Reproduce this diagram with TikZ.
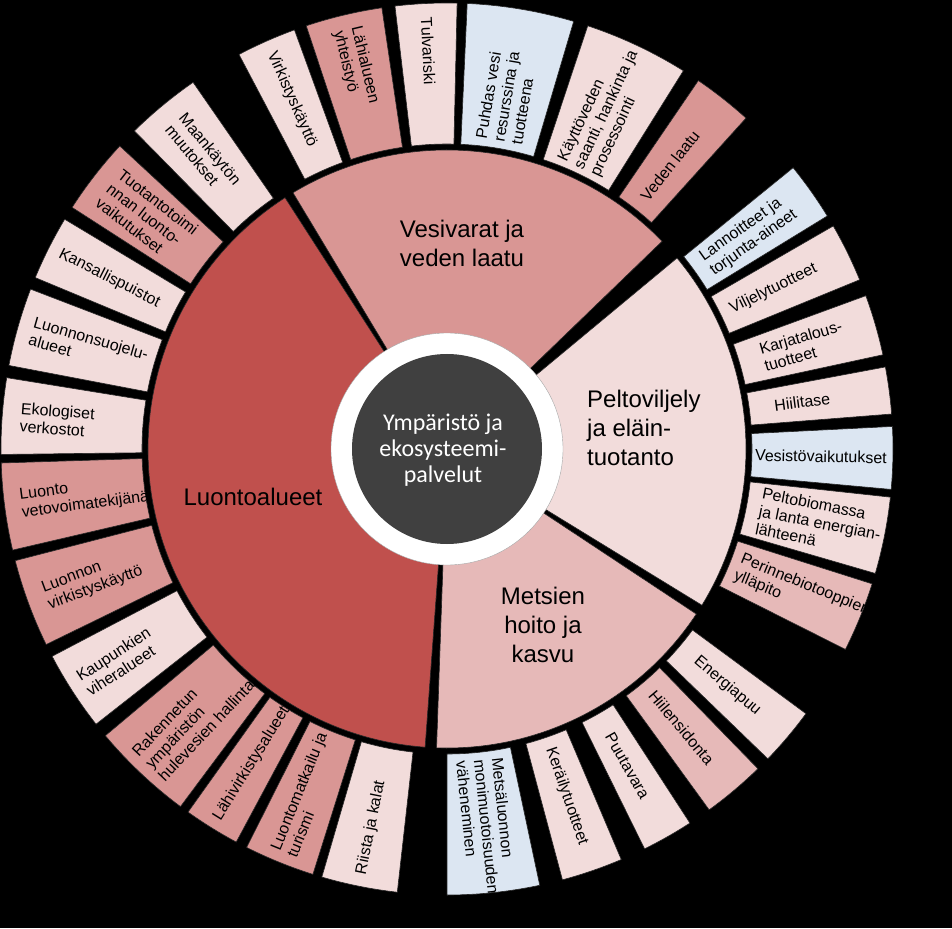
\documentclass[tikz,border=0pt]{standalone}
\usepackage{fontspec}
\setmainfont{Liberation Sans}
\newfontfamily\hubfont{Carlito}
\usetikzlibrary{positioning}

\definecolor{redA}{HTML}{C0504D}
\definecolor{redB}{HTML}{D99694}
\definecolor{redC}{HTML}{E6B9B8}
\definecolor{redD}{HTML}{F2DCDB}
\definecolor{blueD}{HTML}{DCE6F2}
\definecolor{hubgray}{HTML}{404040}

% annular sector: start angle, end angle, inner radius, outer radius, fill
\newcommand{\ringseg}[5]{%
  \draw[seg, fill=#5] (#1:#3) arc[start angle=#1, end angle=#2, radius=#3]
    -- (#2:#4) arc[start angle=#2, end angle=#1, radius=#4] -- cycle;}

\begin{document}
\begin{tikzpicture}[
  x=1pt, y=1pt,
  seg/.style={draw=black!85, line width=0.6pt},
  olab/.style={font=\fontsize{16}{18}\selectfont, align=left, inner sep=2pt},
  mlab/.style={font=\fontsize{24}{29}\selectfont, inner sep=0pt},
  hub/.style={circle, fill=hubgray, text=white, minimum size=190pt, inner sep=0pt,
              align=center, font=\hubfont\fontsize{24}{26}\selectfont},
  hubring/.style={circle, fill=white, draw=gray!70, minimum size=232pt, inner sep=0pt},
]

% --- background ---
\fill[black] (-447,-479) rectangle (505,449);

% --- middle ring ---
\ringseg{44}{121}{110}{299}{redB}
\ringseg{122.8}{265.8}{110}{299}{redA}
\ringseg{268}{326.5}{110}{299}{redC}
\ringseg{328.5}{399.7}{110}{299}{redD}

% --- outer ring: start/end/colour/text start radius/text ---
\foreach \ta/\tb/\col/\rs/\txt [count=\i] in {
    88.7/96.7/redD/434/Tulvariski,
    98.4/108.4/redB/434/{Lähialueen\\yhteistyö},
    110/117.8/redD/436/Virkistyskäyttö,
    124.7/134.5/redD/428/{Maankäytön\\muutokset},
    137.2/147.2/redB/430/{Tuotantotoimi\\nnan luonto-\\vaikutukset},
    149/157.4/redD/436/Kansallispuistot,
    159/169.2/redD/434/{Luonnonsuojelu-\\alueet},
    170.8/180.7/redD/430/{Ekologiset\\verkostot},
    181.8/193.1/redB/432/{Luonto\\vetovoimatekijänä},
    194.5/206/redB/430/{Luonnon\\virkistyskäyttö},
    207.7/218.1/redD/436/{Kaupunkien\\viheralueet},
    220/233.3/redB/438/{Rakennetun\\ympäristön\\hulevesien hallinta},
    234.5/241.8/redB/438/Lähivirkistysalueet,
    243.3/252.5/redB/438/{Luontomatkailu ja\\turismi},
    253.7/263.6/redD/436/Riista ja kalat,
    270/282/blueD/310/{Metsäluonnon\\monimuotoisuuden\\väheneminen},
    285/293/redD/314/Keräilytuotteet,
    296.3/303/redD/326/Puutavara,
    306/314.2/redC/316/Hiilensidonta,
    316/323.6/redD/324/Energiapuu,
    333.3/342.4/redC/312/{Perinnebiotooppien\\ylläpito},
    343.8/353.8/redD/316/{Peltobiomassa\\ja lanta energian-\\lähteenä},
    354.8/362.9/blueD/306/Vesistövaikutukset,
    364.5/370.6/redD/328/Hiilitase,
    372.2/380.1/redD/326/{Karjatalous-\\tuotteet},
    382.3/390/redD/314/Viljelytuotteet,
    391.5/399.1/blueD/316/{Lannoitteet ja\\torjunta-aineet},
    407.9/415.7/redB/316/Veden laatu,
    418/431.6/redD/308/{Käyttöveden\\saanti, hankinta ja\\prosessointi},
    433.5/447.4/blueD/310/{Puhdas vesi\\resurssina ja\\tuotteena}} {
  \pgfmathsetmacro\mid{(\ta+\tb)/2}
  \pgfmathtruncatemacro\side{cos(\mid)>0}
  \ringseg{\ta}{\tb}{305}{446}{\col}
  \ifnum\side=1
    \node[olab, rotate=\mid, anchor=west] (out\i) at (\mid:\rs) {\txt};
  \else
    \pgfmathsetmacro\rot{\mid+180}
    \node[olab, rotate=\rot, anchor=west] (out\i) at (\mid:\rs) {\txt};
  \fi
}

% --- hub ---
\node[hubring] (ring) at (0,0) {};
\node[hub] (hub) at (0,0) {};
\node[text=white, align=center, font=\hubfont\fontsize{24}{26}\selectfont] (hubtxt) at (-4,-1)
  {Ympäristö ja\\ekosysteemi-\\palvelut};

% --- middle ring labels ---
\node[mlab, align=center] (vesi) at (15,206) {Vesivarat ja\\veden laatu};
\node[mlab, align=left, anchor=west] (pelto) at (140,21) {Peltoviljely\\ja eläin-\\tuotanto};
\node[mlab, align=center] (metsa) at (96,-176) {Metsien\\hoito ja\\kasvu};
\node[mlab] (luonto) at (-194,-48) {Luontoalueet};

\end{tikzpicture}
\end{document}
